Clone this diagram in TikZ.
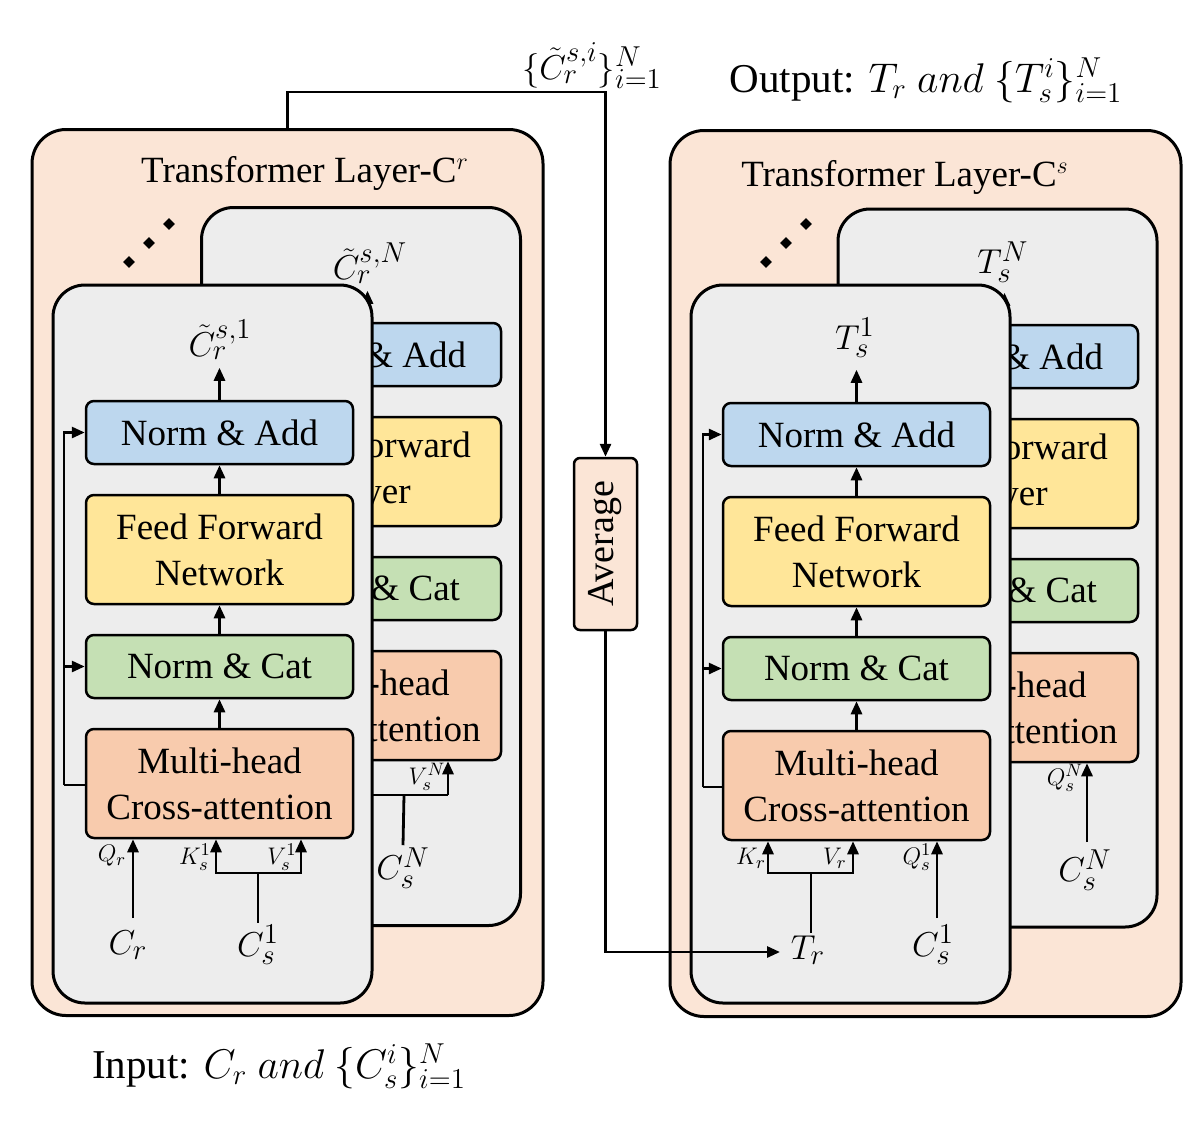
\documentclass[tikz,border=0pt]{standalone}
\usepackage{fontspec}
\setmainfont{Liberation Serif}
\usetikzlibrary{arrows.meta,shapes.geometric}
\definecolor{peach}{RGB}{251,229,214}
\definecolor{pgray}{RGB}{237,237,237}
\definecolor{nblue}{RGB}{189,215,238}
\definecolor{nyellow}{RGB}{255,230,153}
\definecolor{ngreen}{RGB}{197,224,180}
\definecolor{norange}{RGB}{248,203,173}
\begin{document}
\begin{tikzpicture}[x=0.5pt,y=-0.5pt,
  outer/.style={draw, line width=1.5pt, rounded corners=17pt, fill=peach, inner sep=0, minimum width=255.5pt, minimum height=443pt},
  panel/.style={draw, line width=1.5pt, rounded corners=16pt, fill=pgray, inner sep=0, minimum width=159.5pt, minimum height=359pt},
  box/.style={draw, line width=1.25pt, rounded corners=4pt, minimum width=133.5pt, inner sep=0, align=center, font=\fontsize{18.5}{23}\selectfont},
  short/.style={box, minimum height=31.5pt},
  tall/.style={box, minimum height=54.5pt},
  arr/.style={line width=1.4pt, -{Triangle[length=6.5pt,width=5.5pt]}},
  ln/.style={line width=1.4pt},
  big/.style={font=\fontsize{18.5}{22}\selectfont, inner sep=1pt},
  io/.style={font=\fontsize{20.5}{24}\selectfont, inner sep=1pt},
  lab/.style={font=\fontsize{19}{22}\selectfont, inner sep=1pt},
  sml/.style={font=\fontsize{12.5}{14}\selectfont, inner sep=0.5pt},
  dot/.style={diamond, fill=black, inner sep=0, minimum size=6pt}
]
\useasboundingbox (0,0) rectangle (1203,1124);
\fill[white] (0,0) rectangle (1203,1124);

% ---------------- outer panels ----------------
\node[outer] (LO) at (287.5,572.5) {};
\node[outer] (RO) at (925.5,573.5) {};
\node[big] (LT) at (305,173) {Transformer Layer-C$^{r}$};
\node[big] (RT) at (905,177) {Transformer Layer-C$^{s}$};
\node[dot] (ld1) at (129,262) {};
\node[dot] (ld2) at (149,243) {};
\node[dot] (ld3) at (169,224) {};
\node[dot] (rd1) at (766,262) {};
\node[dot] (rd2) at (786,243) {};
\node[dot] (rd3) at (806,224) {};

% ---------------- left back panel ----------------
\node[panel] (LB) at (361,566.5) {};
\node[short, fill=nblue]   (lbna) at (367.5,354.5) {Norm \& Add};
\node[tall,  fill=nyellow] (lbff) at (367.5,471.5) {Feed Forward\\Layer};
\node[short, fill=ngreen]  (lbnc) at (367.5,588.5) {Norm \& Cat};
\node[tall,  fill=norange] (lbmh) at (367.5,705.5) {Multi-head\\Cross-attention};
\node[lab] (lbout) at (370,263) {$\tilde{C}_r^{s,N}$};
\draw[arr] (lbna.north) -- ++(0,-31);
\node[lab] (lbcs) at (403,868) {$C_s^N$};
\coordinate (lbkv) at (404,795);
\coordinate (lbk) at (366,795);
\coordinate (lbv) at (448,795);
\draw[ln] (lbcs.north) -- (lbkv);
\draw[ln] (lbk) -- (lbv);
\draw[arr] (lbv) -- (lbv |- lbmh.south);
\node[sml] (lbvl) at (427,777) {$V_s^N$};

% ---------------- left front panel ----------------
\node[panel] (LF) at (212.5,644) {};
\node[short, fill=nblue]   (na1) at (219.5,432.5) {Norm \& Add};
\node[tall,  fill=nyellow] (ff1) at (219.5,549.5) {Feed Forward\\Network};
\node[short, fill=ngreen]  (nc1) at (219.5,666.5) {Norm \& Cat};
\node[tall,  fill=norange] (mh1) at (219.5,783.5) {Multi-head\\Cross-attention};
\node[lab] (out1) at (220,340) {$\tilde{C}_r^{s,1}$};
\draw[arr] (mh1.north) -- (nc1.south);
\draw[arr] (nc1.north) -- (ff1.south);
\draw[arr] (ff1.north) -- (na1.south);
\draw[arr] (na1.north) -- ++(0,-32);
\coordinate (lres) at (64,785);
\draw[ln] (mh1.west |- lres) -- (lres);
\draw[arr] (lres) |- (na1.west);
\draw[arr] (lres |- nc1.west) -- (nc1.west);
\node[lab] (cr1) at (128,945) {$C_r$};
\node[lab] (cs1) at (258,945) {$C_s^1$};
\coordinate (q1) at (133,918);
\draw[arr] (q1) -- (q1 |- mh1.south);
\coordinate (kv1) at (258,873);
\coordinate (k1) at (216,873);
\coordinate (v1) at (301,873);
\draw[ln] (cs1.north) -- (kv1);
\draw[arr] (kv1) -- (k1) -- (k1 |- mh1.south);
\draw[arr] (kv1) -- (v1) -- (v1 |- mh1.south);
\node[sml] (ql1) at (112,856) {$Q_r$};
\node[sml] (kl1) at (195,857) {$K_s^1$};
\node[sml] (vl1) at (282,857) {$V_s^1$};

% ---------------- right back panel ----------------
\node[panel] (RB) at (997.5,568) {};
\node[short, fill=nblue]   (rbna) at (1004.5,356.5) {Norm \& Add};
\node[tall,  fill=nyellow] (rbff) at (1004.5,473.5) {Feed Forward\\Layer};
\node[short, fill=ngreen]  (rbnc) at (1004.5,590.5) {Norm \& Cat};
\node[tall,  fill=norange] (rbmh) at (1004.5,707.5) {Multi-head\\Cross-attention};
\node[lab] (rbout) at (1003,262) {$T_s^N$};
\draw[arr] (rbna.north) -- ++(0,-31);
\node[lab] (rbcs) at (1085,870) {$C_s^N$};
\coordinate (rbq) at (1087,842);
\draw[arr] (rbq) -- (rbq |- rbmh.south);
\node[sml] (rbql) at (1065,778) {$Q_s^N$};

% ---------------- right front panel ----------------
\node[panel] (RF) at (850.5,644) {};
\node[short, fill=nblue]   (na2) at (856.5,434.5) {Norm \& Add};
\node[tall,  fill=nyellow] (ff2) at (856.5,551.5) {Feed Forward\\Network};
\node[short, fill=ngreen]  (nc2) at (856.5,668.5) {Norm \& Cat};
\node[tall,  fill=norange] (mh2) at (856.5,785.5) {Multi-head\\Cross-attention};
\node[lab] (out2) at (855,338) {$T_s^1$};
\draw[arr] (mh2.north) -- (nc2.south);
\draw[arr] (nc2.north) -- (ff2.south);
\draw[arr] (ff2.north) -- (na2.south);
\draw[arr] (na2.north) -- ++(0,-32);
\coordinate (rres) at (703,787);
\draw[ln] (mh2.west |- rres) -- (rres);
\draw[arr] (rres) |- (na2.west);
\draw[arr] (rres |- nc2.west) -- (nc2.west);
\node[lab] (tr2) at (808,950) {$T_r$};
\node[lab] (cs2) at (933,945) {$C_s^1$};
\coordinate (kv2) at (811,873);
\coordinate (k2) at (768,873);
\coordinate (v2) at (853,873);
\coordinate (q2) at (937,918);
\draw[ln] (kv2 |- tr2.north) -- (kv2);
\draw[arr] (kv2) -- (k2) -- (k2 |- mh2.south);
\draw[arr] (kv2) -- (v2) -- (v2 |- mh2.south);
\draw[arr] (q2) -- (q2 |- mh2.south);
\node[sml] (kl2) at (751,858) {$K_r$};
\node[sml] (vl2) at (835,858) {$V_r$};
\node[sml] (ql2) at (917,857) {$Q_s^1$};

% ---------------- average & cross connections ----------------
\node[draw, line width=1.25pt, rounded corners=3pt, fill=peach, rotate=90, minimum width=86pt, minimum height=31.5pt, inner sep=0, font=\fontsize{19}{22}\selectfont] (avg) at (605.5,544) {Average};
\draw[arr] (LO.north) -- ++(0,-36) -| (avg.east);
\node[lab] (agg) at (592,66) {$\{\tilde{C}_r^{s,i}\}_{i=1}^N$};
\coordinate (trin) at (780,952);
\draw[arr] (avg.west) |- (trin);

% ---------------- input / output ----------------
\node[io] (outp) at (926,80) {Output: $T_r\ and\ \{T_s^i\}_{i=1}^N$};
\node[io] (inp) at (279,1066) {Input: $C_r\ and\ \{C_s^i\}_{i=1}^N$};
\end{tikzpicture}
\end{document}
